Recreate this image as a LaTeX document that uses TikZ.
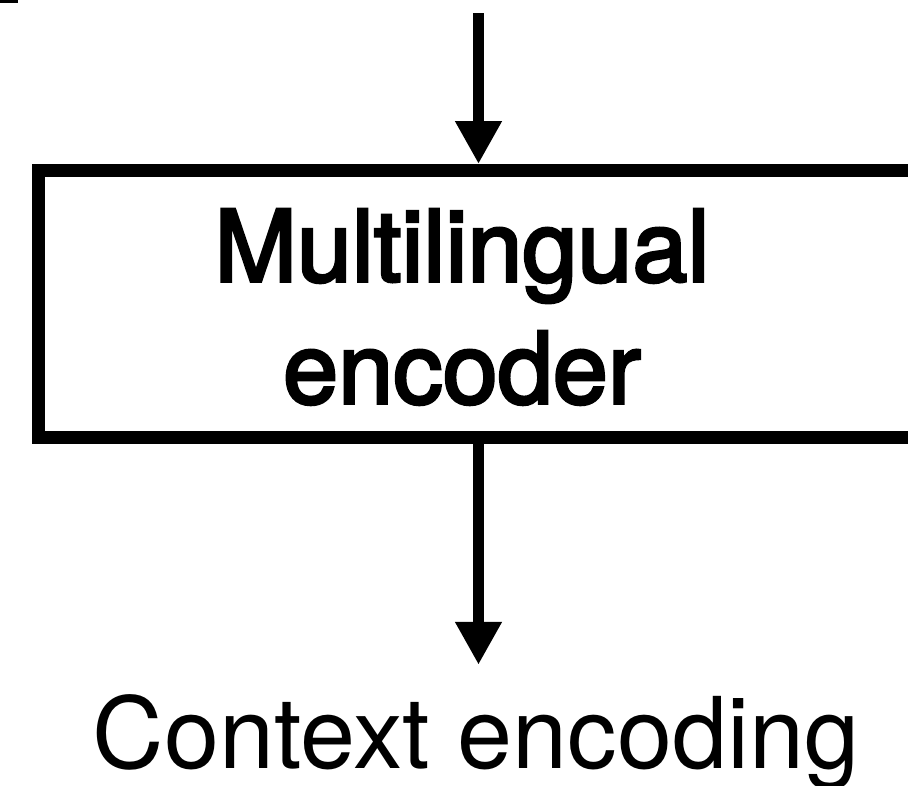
\documentclass[tikz,border=0pt]{standalone}
\usepackage{fontspec}
\setmainfont{TeX Gyre Heros}
\newfontfamily\encfont{TeX Gyre Heros}[FakeBold=3]
\usetikzlibrary{arrows.meta}
\tikzset{
  flow/.style={line width=8.25pt,-{Triangle[length=32.25pt,width=33pt]}},
  encbox/.style={draw,line width=9.75pt,minimum width=660pt,minimum height=200.25pt,inner sep=0pt}
}
\begin{document}
\begin{tikzpicture}[x=0.75pt,y=0.75pt,yscale=-1,xscale=1]
\clip (0,0) rectangle (908,786);
\useasboundingbox (0,0) rectangle (908,786);
\fill (0,0) rectangle (18,3);
\node [encbox] (enc) at (478.5,304) {};
\node [font=\encfont\fontsize{74.25}{91.5}\selectfont,align=center,inner sep=0pt] (enctext) at (462,307) {Multilingual\\encoder};
\node [anchor=base,font=\fontsize{74.25}{91.5}\selectfont,inner sep=0pt] (ctx) at (476,768) {Context encoding};
\coordinate (in) at (478.5,13);
\draw [flow] (in) -- (enc.north);
\draw [flow,shorten >=21.75pt] (enc.south) -- (enc.south |- ctx.north);
\end{tikzpicture}
\end{document}
